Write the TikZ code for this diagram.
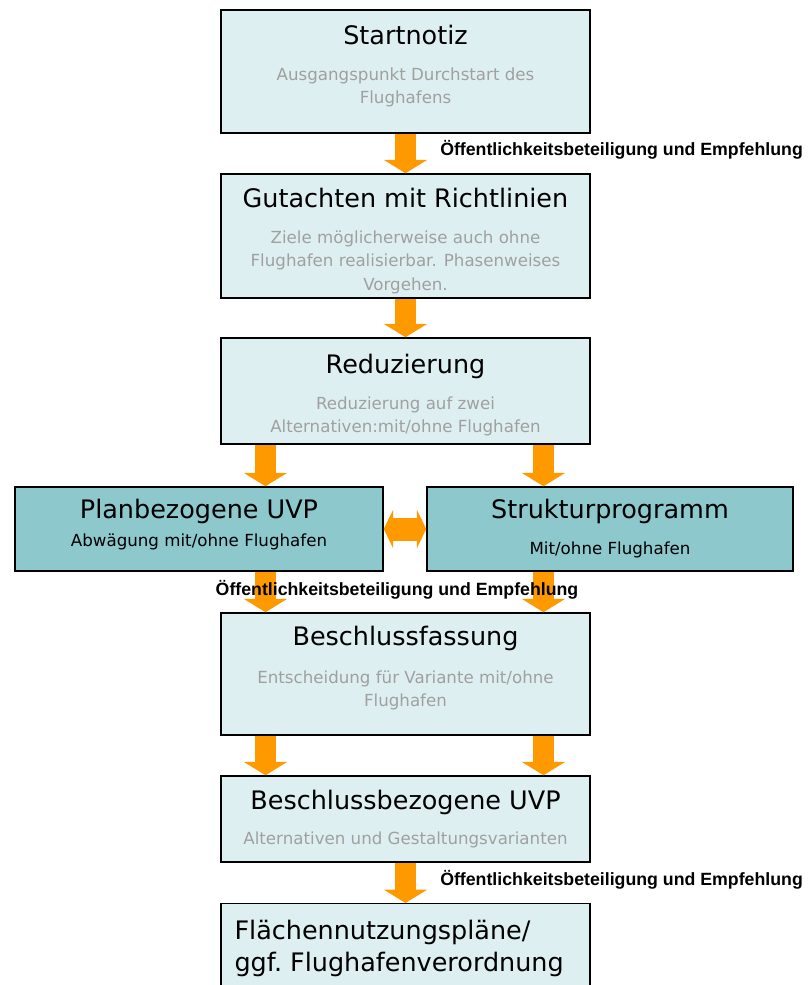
\documentclass[tikz,border=0pt]{standalone}
\usepackage{fontspec}
\setmainfont{Liberation Sans}
\newfontfamily\kastenfont{DejaVu Sans}
\usetikzlibrary{arrows.meta, positioning}

\definecolor{hellblau}{RGB}{221,239,241}
\definecolor{petrol}{RGB}{140,200,204}
\definecolor{grautext}{RGB}{160,160,160}
\definecolor{pfeilorange}{RGB}{255,153,0}

\newcommand{\titel}[1]{{\fontsize{19.1}{22}\selectfont\color{black}#1}}

\tikzset{
  kasten/.style={draw=black, line width=1.1pt, fill=hellblau, minimum width=276.75pt, inner sep=0pt},
  kastendunkel/.style={kasten, fill=petrol},
  inhalt/.style={align=center, inner sep=0pt, text=grautext, font=\kastenfont\fontsize{12.5}{17.6}\selectfont},
  pfeil/.style={draw=pfeilorange, line width=15.75pt, -{Triangle[width=32pt,length=10pt]}},
  doppelpfeil/.style={draw=pfeilorange, line width=17.25pt, {Triangle[width=28.5pt,length=7pt]}-{Triangle[width=28.5pt,length=7pt]}},
  hinweis/.style={font=\fontsize{13.3}{15}\selectfont\bfseries, inner sep=0pt}
}

\begin{document}
\begin{tikzpicture}[x=0.75pt, y=-0.75pt]
	\useasboundingbox (0,0) rectangle (807,985); % Rand wie im Original
	
	% Kaesten
	\node[kasten, minimum height=92.25pt] (start) at (405.5,71.5) {};
	\node[kasten, minimum height=93pt] (gutachten) at (405.5,236) {};
	\node[kasten, minimum height=79.5pt] (reduz) at (405.5,391) {};
	\node[kastendunkel, minimum width=276pt, minimum height=63pt] (plan) at (199,529) {};
	\node[kastendunkel, minimum width=274.5pt, minimum height=63pt] (struktur) at (610,529) {};
	\node[kasten, minimum height=91.5pt] (beschluss) at (405.5,674) {};
	\node[kasten, minimum height=64.5pt] (bezogen) at (405.5,819) {};
	\node[kasten, anchor=north, minimum height=80pt] (flaeche) at (405.5,903) {}; % unten abgeschnitten
	
	% Texte in den Kaesten
	\node[inhalt, below=11.7pt of start.north] (start-text) {\titel{Startnotiz}\\[9.4pt]Ausgangspunkt Durchstart des\\Flughafens};
	\node[inhalt, below=10.95pt of gutachten.north] (gutachten-text) {\titel{Gutachten mit Richtlinien}\\[9.4pt]Ziele möglicherweise auch ohne\\Flughafen realisierbar. Phasenweises\\Vorgehen.};
	\node[inhalt, below=12.45pt of reduz.north] (reduz-text) {\titel{Reduzierung}\\[9.4pt]Reduzierung auf zwei\\Alternativen:mit/ohne Flughafen};
	\node[inhalt, text=black, below=9.45pt of plan.north] (plan-text) {\titel{Planbezogene UVP}\\[3.4pt]Abwägung mit/ohne Flughafen};
	\node[inhalt, text=black, below=9.45pt of struktur.north] (struktur-text) {\titel{Strukturprogramm}\\[9.4pt]Mit/ohne Flughafen};
	\node[inhalt, below=10.2pt of beschluss.north] (beschluss-text) {\titel{Beschlussfassung}\\[10.9pt]Entscheidung für Variante mit/ohne\\Flughafen};
	\node[inhalt, below=10.95pt of bezogen.north] (bezogen-text) {\titel{Beschlussbezogene UVP}\\[8.6pt]Alternativen und Gestaltungsvarianten};
	\node[inhalt, align=left, text=black, font=\kastenfont\fontsize{19.1}{24.5}\selectfont, below right=12.45pt and 10.5pt of flaeche.north west] (flaeche-text) {Flächennutzungspläne/\\ggf.\ Flughafenverordnung};
	
	% Pfeile
	\coordinate (links) at (265.5,0);
	\coordinate (rechts) at (543.5,0);
	
	\draw[pfeil] (start) -- (gutachten);
	\draw[pfeil] (gutachten) -- (reduz);
	\draw[pfeil] (reduz.south -| links) -- (plan.north -| links);
	\draw[pfeil] (reduz.south -| rechts) -- (struktur.north -| rechts);
	\draw[doppelpfeil] (plan) -- (struktur);
	\draw[pfeil] (plan.south -| links) -- (beschluss.north -| links);
	\draw[pfeil] (struktur.south -| rechts) -- (beschluss.north -| rechts);
	\draw[pfeil] (beschluss.south -| links) -- (bezogen.north -| links);
	\draw[pfeil] (beschluss.south -| rechts) -- (bezogen.north -| rechts);
	\draw[pfeil] (bezogen) -- (flaeche);
	
	% Beschriftungen
	\node[hinweis, anchor=west] (hinweis1) at (440,150) {Öffentlichkeitsbeteiligung und Empfehlung};
	\node[hinweis] (hinweis2) at (397,590) {Öffentlichkeitsbeteiligung und Empfehlung};
	\node[hinweis, anchor=west] (hinweis3) at (440,880) {Öffentlichkeitsbeteiligung und Empfehlung};
\end{tikzpicture}
\end{document}
